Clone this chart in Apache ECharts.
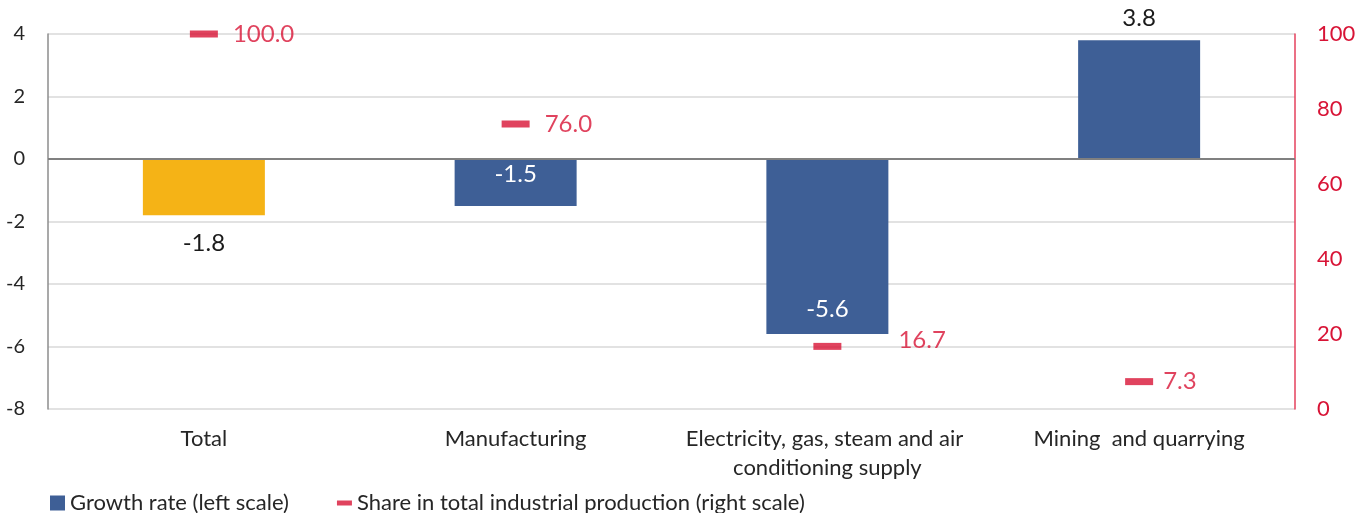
<!DOCTYPE html>
<html>
<head>
<meta charset="utf-8">
<script src="https://cdn.jsdelivr.net/npm/echarts@6/dist/echarts.min.js"></script>
<style>
  html, body { margin: 0; padding: 0; background: #ffffff; }
  #chart { width: 1369px; height: 513px; }
</style>
</head>
<body>
<div id="chart"></div>
<script>
// Industrial production by section: growth rate (%) and share in total (%)
const categories = ['Total', 'Manufacturing', 'Electricity, gas, steam and air conditioning supply', 'Mining  and quarrying'];
const growthRate = [-1.8, -1.5, -5.6, 3.8];
const shareInProduction = [100.0, 76.0, 16.7, 7.3];
const seriesNames = ['Growth rate (left scale)', 'Share in total industrial production (right scale)'];

const FONT = 'Lato, "Open Sans", sans-serif';
const BLUE = '#3E5F96';
const ORANGE = '#F5B316';
const RED = '#D81436';

// Bar labels: each bar gets its own placement
const barLabelStyles = [
  { position: 'bottom', distance: 16, color: '#1a1a1a' },
  { position: 'insideTop', distance: 3, color: '#ffffff' },
  { position: 'insideBottom', distance: 13, color: '#ffffff' },
  { position: 'top', distance: 10, color: '#1a1a1a' }
];
const barData = growthRate.map((v, i) => ({
  value: v,
  itemStyle: { color: i === 0 ? ORANGE : BLUE },
  label: barLabelStyles[i]
}));

// Share markers: labels to the right, one pushed clear of the bar
const shareLabelStyles = [
  { distance: 15 },
  { distance: 15 },
  { distance: 57, offset: [0, -6] },
  { distance: 10 }
];
const shareData = shareInProduction.map((v, i) => ({
  value: v,
  label: shareLabelStyles[i]
}));

const chart = echarts.init(document.getElementById('chart'), null, { renderer: 'canvas' });
chart.setOption({
  animation: false,
  textStyle: { fontFamily: FONT },
  grid: { left: 48, right: 74, top: 34, bottom: 104, containLabel: false },
  legend: {
    left: 45,
    top: 487,
    itemGap: 48,
    itemWidth: 15,
    itemHeight: 15,
    textStyle: { fontFamily: FONT, fontSize: 22, color: '#262626' },
    data: [
      { name: seriesNames[0], icon: 'rect' },
      { name: seriesNames[1], icon: 'path://M0,0 L15,0 L15,5 L0,5 Z' }
    ]
  },
  xAxis: {
    type: 'category',
    data: categories,
    axisLine: { show: false },
    axisTick: { show: false },
    axisLabel: {
      fontFamily: FONT,
      fontSize: 22,
      color: '#262626',
      margin: 15,
      width: 310,
      overflow: 'break',
      lineHeight: 29,
      interval: 0
    }
  },
  yAxis: [
    {
      type: 'value',
      min: -8,
      max: 4,
      interval: 2,
      axisLine: { show: true, lineStyle: { color: '#8c8c8c', width: 1.5 } },
      axisTick: { show: false },
      axisLabel: { fontFamily: FONT, fontSize: 20, color: '#262626', margin: 23 },
      splitLine: { show: true, lineStyle: { color: '#d9d9d9', width: 1.5 } }
    },
    {
      type: 'value',
      min: 0,
      max: 100,
      interval: 20,
      position: 'right',
      axisLine: { show: true, lineStyle: { color: '#E4405C', width: 1.5 } },
      axisTick: { show: false },
      axisLabel: { fontFamily: FONT, fontSize: 22, color: RED, margin: 22 },
      splitLine: { show: false }
    }
  ],
  series: [
    {
      name: seriesNames[0],
      type: 'bar',
      yAxisIndex: 0,
      barWidth: 122,
      itemStyle: { color: BLUE },
      data: barData,
      label: {
        show: true,
        fontFamily: FONT,
        fontSize: 24,
        formatter: p => p.value.toFixed(1)
      },
      markLine: {
        silent: true,
        symbol: 'none',
        label: { show: false },
        lineStyle: { color: '#808080', width: 2, type: 'solid' },
        data: [{ yAxis: 0 }]
      }
    },
    {
      name: seriesNames[1],
      type: 'scatter',
      yAxisIndex: 1,
      symbol: 'rect',
      symbolSize: [28, 7],
      itemStyle: { color: RED },
      data: shareData,
      label: {
        show: true,
        position: 'right',
        fontFamily: FONT,
        fontSize: 24,
        color: RED,
        formatter: p => p.value.toFixed(1)
      },
      z: 5
    }
  ]
});
</script>
</body>
</html>
